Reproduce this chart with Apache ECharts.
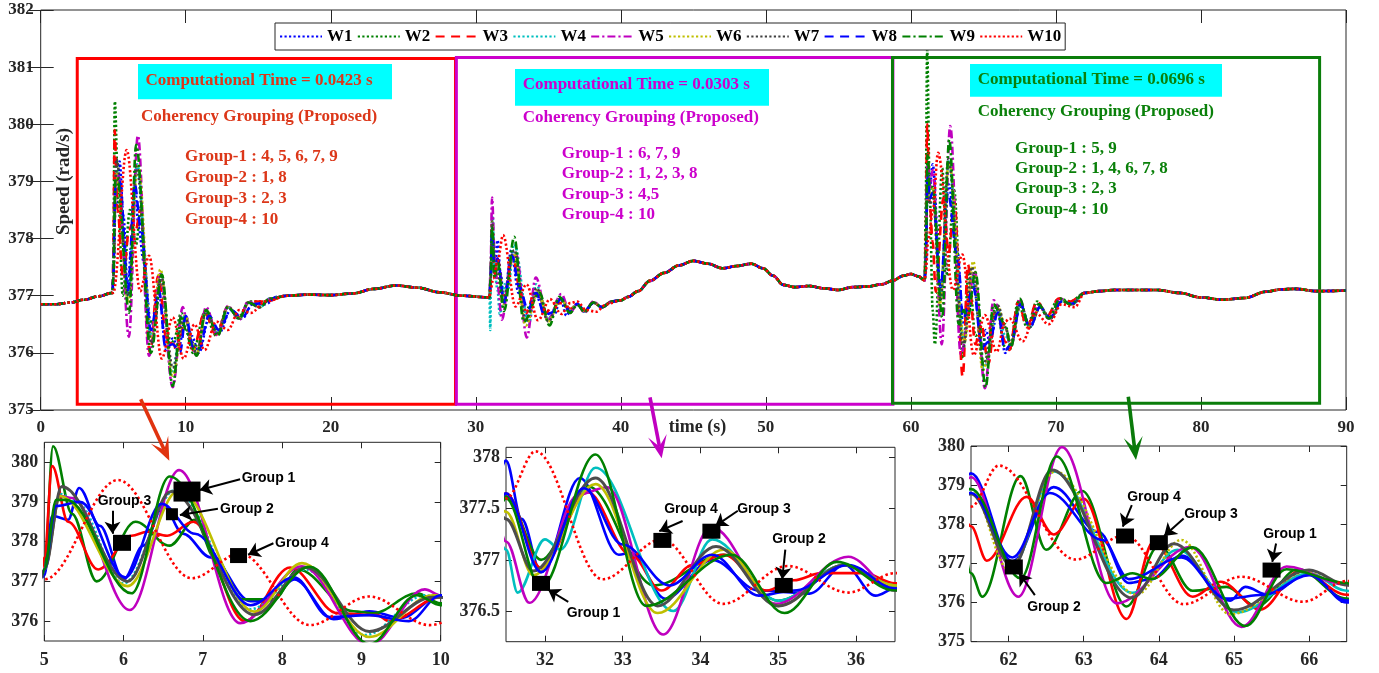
<!DOCTYPE html>
<html>
<head>
<meta charset="utf-8">
<script src="https://cdn.jsdelivr.net/npm/echarts@6/dist/echarts.min.js"></script>
<style>
html, body { margin: 0; padding: 0; background: #ffffff; }
#chart { width: 1379px; height: 673px; }
</style>
</head>
<body>
<div id="chart"></div>
<script>
// ---- Generator speeds (rad/s) against time (s) ----
const seriesNames = ['W1', 'W2', 'W3', 'W4', 'W5', 'W6', 'W7', 'W8', 'W9', 'W10'];

// stretches where all ten machines move together
const steadyA = [[0,376.85],[1,376.85],[2,376.88],[3,376.93],[4,376.99],[4.95,377.05]];
const steadyB = [[17,377.0],[18.5,377.02],[20,377.01],[21.5,377.04],[23,377.12],[24.5,377.18],[26,377.14],[27.5,377.06],[29,377.0],[30.95,376.97]];
const steadyC = [[40.5,376.98],[41.2,377.08],[42,377.26],[43,377.4],[44,377.53],[45,377.61],[46,377.56],[47,377.48],[48,377.52],[49,377.56],[49.8,377.48],[50.5,377.35],[51.2,377.19],[52,377.15],[53,377.17],[54,377.13],[55,377.1],[56,377.15],[57,377.16],[58,377.2],[58.7,377.26],[59.5,377.35],[60,377.38],[60.5,377.34],[60.95,377.27]];
const steadyD = [[72,377.05],[73,377.08],[74,377.1],[75.5,377.1],[77,377.1],[78.5,377.05],[80,376.97],[81.5,376.93],[83,376.96],[84.5,377.07],[85.5,377.11],[86.5,377.12],[88,377.08],[90,377.09]];

// first disturbance (t = 5 s)
const w1T1 = [[5.0,377.15],[5.1,378.65],[5.3,378.55],[5.44,379.35],[5.7,378.4],[6.0,377.05],[6.25,377.9],[6.5,378.9],[6.75,378.2],[7.1,377.6],[7.6,376.5],[7.85,376.52],[8.15,377.05],[8.65,376.05],[9.1,376.25],[9.5,376.08],[10.0,376.65],[10.4,376.3],[10.9,376.0],[11.6,376.6],[12.3,376.35],[13.1,376.75],[13.9,376.6],[14.6,376.85],[15.5,376.85],[16.3,376.98]];
const w2T1 = [[5.0,377.3],[5.11,380.4],[5.35,378.7],[5.66,377.0],[6.15,378.5],[6.58,377.9],[6.9,378.55],[7.15,377.6],[7.5,376.55],[7.9,376.55],[8.2,377.3],[8.9,376.25],[9.15,376.2],[9.7,376.7],[10.0,376.45],[10.5,376.0],[11.3,376.7],[12.1,376.3],[12.9,376.8],[13.7,376.65],[14.4,376.9],[15.5,376.9]];
const w3T1 = [[5.0,377.6],[5.1,379.9],[5.3,378.5],[5.68,377.3],[6.1,378.15],[6.3,378.25],[6.55,378.15],[6.88,378.5],[7.53,376.0],[8.1,377.35],[8.7,376.2],[9.2,376.15],[9.35,376.0],[10.0,376.6],[10.5,376.05],[11.3,376.7],[12.1,376.32],[12.9,376.8],[13.7,376.62],[14.4,376.9],[15.5,376.9]];
const w4T1 = [[5.0,377.3],[5.2,379.2],[5.4,379.0],[6.0,376.95],[6.65,379.3],[7.6,376.3],[8.3,377.3],[9.05,375.65],[9.8,376.65],[10.0,376.6],[10.4,376.2],[10.75,375.97],[11.4,376.72],[12.2,376.35],[12.9,376.8],[13.7,376.6],[14.3,376.88],[15.1,376.8],[15.8,376.95]];
const w5T1 = [[5.0,377.3],[5.2,379.15],[5.35,379.1],[6.08,376.28],[6.7,379.8],[7.47,375.95],[8.25,377.38],[9.1,375.4],[9.8,376.8],[10.0,376.65],[10.4,376.15],[10.75,375.95],[11.4,376.8],[12.2,376.3],[12.9,376.82],[13.7,376.58],[14.3,376.9],[15.1,376.8],[15.8,376.95]];
const w6T1 = [[5.0,377.3],[5.2,379.15],[6.05,376.88],[6.7,379.3],[7.65,376.24],[8.25,377.46],[9.1,375.6],[9.9,376.65],[10.0,376.65],[10.4,376.2],[10.75,375.98],[11.4,376.74],[12.2,376.35],[12.9,376.8],[13.7,376.6],[14.3,376.88],[15.1,376.8],[15.8,376.95]];
const w7T1 = [[5.0,377.3],[5.22,379.39],[6.05,377.0],[6.6,379.26],[7.65,376.16],[8.3,377.35],[9.1,375.74],[9.9,376.6],[10.0,376.6],[10.4,376.2],[10.75,375.98],[11.4,376.72],[12.2,376.35],[12.9,376.8],[13.7,376.6],[14.3,376.88],[15.1,376.8],[15.8,376.95]];
const w8T1 = [[5.0,377.3],[5.15,378.9],[5.45,379.0],[6.02,377.1],[6.48,378.95],[6.9,378.2],[7.6,376.4],[8.15,377.1],[8.6,376.1],[9.1,376.15],[9.6,376.0],[10.0,376.65],[10.5,376.1],[10.9,376.05],[11.6,376.65],[12.3,376.4],[13.1,376.75],[13.9,376.62],[14.6,376.85],[15.5,376.88],[16.3,376.98]];
const w9T1 = [[5.0,377.3],[5.15,379.05],[5.28,379.05],[6.1,376.7],[6.58,379.64],[7.6,376.0],[8.35,377.37],[9.1,375.42],[9.7,376.65],[10.0,376.4],[10.4,376.1],[10.75,375.95],[11.4,376.75],[12.2,376.3],[12.9,376.8],[13.7,376.6],[14.3,376.88],[15.1,376.8],[15.8,376.95]];
const w10T1 = [[5.0,377.05],[5.93,379.55],[6.86,377.08],[7.47,377.7],[8.35,375.9],[9.1,376.62],[9.86,375.9],[10.6,376.5],[11.3,376.05],[12.1,376.55],[12.9,376.4],[13.7,376.75],[14.5,376.7],[15.5,376.9]];

// second disturbance (t = 31 s)
const w1T2 = [[31.02,377.3],[31.12,378.2],[31.3,377.5],[31.5,377.97],[31.7,377.4],[31.95,376.88],[32.45,377.8],[32.95,377.05],[33.1,377.07],[33.55,376.62],[34.15,377.0],[34.75,376.7],[35.2,376.68],[35.4,376.67],[35.85,376.95],[36.25,376.65],[36.5,376.72],[37,376.85],[37.5,376.72],[38.1,376.88],[38.7,376.8],[39.4,376.9],[40,376.92]];
const w2T2 = [[31.02,377.3],[31.12,378.0],[31.3,377.3],[31.5,377.62],[31.95,377.0],[32.55,377.72],[33.4,376.75],[34.3,377.05],[35.0,376.6],[35.85,376.95],[36.5,376.75],[37,376.84],[37.5,376.73],[38.1,376.88],[38.7,376.8],[39.4,376.9],[40,376.92]];
const w3T2 = [[31.02,377.3],[31.12,378.1],[31.3,377.4],[31.5,377.65],[31.95,376.92],[32.55,377.66],[33.1,377.05],[33.5,376.7],[33.9,376.95],[34.3,377.05],[34.85,376.7],[35.2,376.8],[35.55,376.87],[36.1,376.87],[36.5,376.77],[37,376.85],[37.5,376.74],[38.1,376.88],[38.7,376.8],[39.4,376.9],[40,376.92]];
const w4T2 = [[30.98,376.97],[31.0,376.4],[31.05,377.5],[31.15,378.4],[31.3,377.4],[31.5,377.1],[31.65,376.68],[32.0,377.2],[32.2,377.1],[32.65,377.9],[33.65,376.5],[34.15,377.2],[35.0,376.6],[35.85,376.95],[36.5,376.75],[37,376.86],[37.5,376.72],[38.1,376.88],[38.7,376.8],[39.4,376.9],[40,376.92]];
const w5T2 = [[31.02,377.5],[31.12,378.72],[31.3,377.7],[31.5,377.18],[31.8,376.58],[32.44,377.64],[32.8,377.71],[33.52,376.27],[34.14,377.32],[34.97,376.57],[35.9,377.03],[36.5,376.7],[37,376.86],[37.5,376.7],[38.1,376.9],[38.7,376.8],[39.4,376.9],[40,376.92]];
const w6T2 = [[31.02,377.3],[31.12,378.3],[31.3,377.6],[31.5,377.47],[31.85,376.85],[32.65,377.74],[33.45,376.48],[34.3,377.1],[35.0,376.55],[35.85,376.95],[36.5,376.75],[37,376.85],[37.5,376.72],[38.1,376.88],[38.7,376.8],[39.4,376.9],[40,376.92]];
const w7T2 = [[31.02,377.3],[31.12,378.3],[31.3,377.6],[31.5,377.4],[31.85,376.89],[32.65,377.8],[33.45,376.55],[34.2,377.13],[35.0,376.55],[35.85,376.95],[36.5,376.72],[37,376.85],[37.5,376.72],[38.1,376.88],[38.7,376.8],[39.4,376.9],[40,376.92]];
const w8T2 = [[31.02,377.3],[31.12,378.1],[31.3,377.4],[31.5,377.65],[31.95,376.88],[32.5,377.7],[33.0,377.15],[33.6,376.75],[34.15,377.05],[34.75,376.65],[35.2,376.7],[35.9,376.95],[36.5,376.72],[37,376.86],[37.5,376.74],[38.1,376.87],[38.7,376.8],[39.4,376.9],[40,376.92]];
const w9T2 = [[31.02,377.3],[31.12,378.2],[31.3,377.3],[31.5,377.6],[31.95,376.73],[32.65,378.03],[33.3,376.55],[34.4,377.05],[35.08,376.48],[35.75,376.98],[36.5,376.7],[37,376.84],[37.5,376.72],[38.1,376.88],[38.7,376.8],[39.4,376.9],[40,376.92]];
const w10T2 = [[31.02,377.1],[31.2,377.3],[31.5,377.6],[31.88,378.06],[32.74,376.81],[33.5,377.2],[34.29,376.57],[35.12,376.94],[35.9,376.68],[36.5,376.87],[37,376.9],[37.6,376.75],[38.3,376.72],[39,376.85],[40,376.92]];

// third disturbance (t = 61 s)
const w1T3 = [[61.02,377.6],[61.15,379.3],[61.3,378.9],[61.5,379.3],[62.05,377.05],[62.6,378.95],[63.2,377.8],[63.6,376.5],[63.9,376.6],[64.3,377.2],[64.95,376.05],[65.15,376.4],[65.45,376.2],[66.0,376.75],[66.5,376.0],[66.9,376.15],[67.55,376.85],[68.2,376.45],[68.9,376.8],[69.6,376.6],[70.4,376.9],[71.1,376.85]];
const w2T3 = [[61.02,378.5],[61.12,381.3],[61.3,378.8],[61.5,376.75],[61.65,376.15],[62.16,379.23],[62.5,377.35],[62.98,378.85],[63.57,375.9],[64.0,377.45],[64.45,376.3],[64.9,376.4],[65.3,375.9],[65.85,376.85],[66.5,376.1],[66.8,376.05],[67.4,376.9],[68.0,376.45],[68.7,376.9],[69.4,376.65],[70.2,376.95],[71.0,376.9]];
const w3T3 = [[61.02,378.0],[61.12,380.0],[61.3,378.6],[61.5,377.95],[61.71,377.07],[62.24,378.7],[62.6,377.74],[63.0,378.65],[63.57,375.58],[63.93,377.55],[64.45,376.15],[64.82,376.53],[65.35,375.82],[65.88,376.82],[66.5,376.2],[66.8,376.05],[67.4,376.9],[68.0,376.45],[68.7,376.9],[69.4,376.65],[70.2,376.95],[71.0,376.9]];
const w4T3 = [[61.02,377.6],[61.15,379.1],[61.3,378.7],[61.5,378.9],[62.05,376.95],[62.6,379.35],[63.65,376.25],[64.25,377.35],[65.05,375.75],[66.0,376.75],[66.5,376.3],[66.9,376.15],[67.55,376.85],[68.2,376.45],[68.9,376.8],[69.6,376.6],[70.4,376.9],[71.1,376.85]];
const w5T3 = [[61.02,377.6],[61.15,379.3],[61.3,378.9],[61.5,379.2],[62.13,376.15],[62.71,379.97],[63.44,375.98],[64.42,377.42],[65.1,375.38],[65.7,376.92],[66.5,376.45],[66.9,376.1],[67.5,376.95],[68.1,376.5],[68.8,376.85],[69.5,376.6],[70.3,376.95],[71.0,376.85]];
const w6T3 = [[61.02,377.6],[61.15,379.1],[61.3,378.7],[61.5,378.9],[62.0,376.85],[62.62,379.35],[63.7,376.2],[64.3,377.6],[64.95,375.7],[66.0,376.8],[66.5,376.45],[66.9,376.15],[67.55,376.85],[68.2,376.45],[68.9,376.8],[69.6,376.6],[70.4,376.9],[71.1,376.85]];
const w7T3 = [[61.02,377.6],[61.15,379.0],[61.3,378.6],[61.5,378.78],[62.05,376.92],[62.58,379.39],[63.64,376.12],[64.2,377.5],[65.0,375.81],[66.0,376.83],[66.5,376.45],[66.9,376.15],[67.55,376.85],[68.2,376.45],[68.9,376.8],[69.6,376.6],[70.4,376.9],[71.1,376.85]];
const w8T3 = [[61.02,377.6],[61.15,379.1],[61.3,378.7],[61.5,378.8],[62.05,377.15],[62.55,378.8],[63.25,377.6],[63.6,376.6],[64.3,377.15],[64.9,376.1],[65.4,376.2],[66.0,376.7],[66.5,376.05],[66.9,376.15],[67.55,376.85],[68.2,376.45],[68.9,376.8],[69.6,376.62],[70.4,376.9],[71.1,376.86]];
const w9T3 = [[61.02,377.7],[61.15,379.5],[61.3,378.9],[61.5,378.9],[62.16,376.62],[62.64,379.73],[63.3,376.5],[63.65,376.75],[63.9,376.6],[64.45,377.41],[65.15,375.4],[65.7,376.85],[66.5,376.5],[66.9,376.1],[67.5,376.95],[68.1,376.5],[68.8,376.85],[69.5,376.6],[70.3,376.95],[71.0,376.85]];
const w10T3 = [[61.02,377.4],[61.2,378.0],[61.5,378.45],[61.87,379.5],[62.89,377.1],[63.55,377.72],[64.33,375.96],[65.1,376.66],[65.92,376.02],[66.5,376.55],[66.8,376.6],[67.7,376.2],[68.6,376.7],[69.5,376.5],[70.4,376.85],[71.3,376.8]];

// coherency group markers in the zoomed views: [time, speed]
const groupMarks1 = [[6.80,379.26],[6.61,378.69],[5.98,377.97],[7.45,377.65]];
const groupMarks2 = [[31.95,376.77],[33.51,377.19],[34.14,377.28],[35.07,376.75]];
const groupMarks3 = [[65.5,376.83],[62.07,376.91],[64.0,377.53],[63.55,377.70]];

// tick labels
const mainTimeTicks = [0, 10, 20, 30, 40, 50, 60, 70, 80, 90];
const zoom1Ticks = { x: [5, 6, 7, 8, 9, 10], y: [376, 377, 378, 379, 380] };
const zoom2Ticks = { x: [32, 33, 34, 35, 36], y: [376.5, 377, 377.5, 378] };
const zoom3Ticks = { x: [62, 63, 64, 65, 66], y: [375, 376, 377, 378, 379, 380] };

// ---- build full tracks ----
function track(a, b, c) { return [].concat(steadyA, a, steadyB, b, steadyC, c, steadyD); }
const tracks = [
  track(w1T1, w1T2, w1T3), track(w2T1, w2T2, w2T3), track(w3T1, w3T2, w3T3),
  track(w4T1, w4T2, w4T3), track(w5T1, w5T2, w5T3), track(w6T1, w6T2, w6T3),
  track(w7T1, w7T2, w7T3), track(w8T1, w8T2, w8T3), track(w9T1, w9T2, w9T3),
  track(w10T1, w10T2, w10T3)
];

const serif = "'Liberation Serif', 'Times New Roman', 'DejaVu Serif', serif";
const sans = "'Liberation Sans', Arial, 'DejaVu Sans', sans-serif";
const ink = '#262626';

const DOT = [2.2, 2.3], DASH = [9, 6.5], DASHDOT = [8, 3, 2.2, 3];
const lineLook = [
  { color: '#0000ff', dash: DOT },
  { color: '#008000', dash: DOT },
  { color: '#ff0000', dash: DASH },
  { color: '#00bfbf', dash: DOT },
  { color: '#bf00bf', dash: DASHDOT },
  { color: '#bfbf00', dash: DOT },
  { color: '#404040', dash: DOT },
  { color: '#0000ff', dash: DASH },
  { color: '#008000', dash: DASHDOT },
  { color: '#ff0000', dash: DOT }
];

// ---- grids: main plot + three zoomed windows ----
const grids = [
  { left: 40.7, top: 10, width: 1305.3, height: 400 },
  { left: 44.3, top: 442.3, width: 396.4, height: 198.7 },
  { left: 506, top: 447.3, width: 389, height: 194.4 },
  { left: 971, top: 446, width: 375.7, height: 195.7 }
].map(g => Object.assign({ show: true, borderColor: ink, borderWidth: 1, backgroundColor: '#fff', containLabel: false, outerBoundsMode: 'none' }, g));

function axis(gi, position, range, showLabel, fontSize, tickLen, margin) {
  const a = {
    type: 'value', gridIndex: gi, position: position,
    min: range.min, max: range.max,
    axisLine: { show: false },
    splitLine: { show: false },
    axisTick: { show: true, inside: true, length: tickLen, lineStyle: { color: ink, width: 1 } },
    axisLabel: { show: showLabel, color: ink, fontFamily: serif, fontWeight: 'bold', fontSize: fontSize, margin: margin, hideOverlap: false }
  };
  if (range.interval) a.interval = range.interval;
  if (range.ticks) {
    a.axisTick.customValues = range.ticks;
    a.axisLabel.customValues = range.ticks;
  }
  return a;
}

const xRanges = [
  { min: 0, max: 90, interval: 10 },
  { min: 5, max: 10, interval: 1 },
  { min: 31.5, max: 36.5, ticks: zoom2Ticks.x },
  { min: 61.5, max: 66.5, ticks: zoom3Ticks.x }
];
const yRanges = [
  { min: 375, max: 382, interval: 1 },
  { min: 375.5, max: 380.5, ticks: zoom1Ticks.y },
  { min: 376.2, max: 378.1, ticks: zoom2Ticks.y },
  { min: 375, max: 380, interval: 1 }
];

const xAxes = [], yAxes = [];
for (let g = 0; g < 4; g++) {
  const main = g === 0;
  const fs = main ? 17 : 18;
  const tl = main ? 13 : 6;
  xAxes.push(axis(g, 'bottom', xRanges[g], true, fs, tl, main ? 9 : 10));
  xAxes.push(axis(g, 'top', xRanges[g], false, fs, tl, 8));
  yAxes.push(axis(g, 'left', yRanges[g], true, fs, tl, main ? 7 : 6));
  yAxes.push(axis(g, 'right', yRanges[g], false, fs, tl, 8));
}

const series = [];

// main plot traces
tracks.forEach((d, i) => {
  series.push({
    name: seriesNames[i], type: 'line', xAxisIndex: 0, yAxisIndex: 0, data: d,
    symbol: 'none', showSymbol: false, smooth: 0.35, smoothMonotone: 'x',
    lineStyle: { color: lineLook[i].color, width: 2.6, type: lineLook[i].dash },
    itemStyle: { color: lineLook[i].color },
    emphasis: { disabled: true }, silent: true, z: 3
  });
});

// disturbance windows on the main plot
series.push({
  name: 'windows', type: 'line', xAxisIndex: 0, yAxisIndex: 0, data: [], silent: true, z: 2,
  markArea: {
    silent: true, label: { show: false },
    itemStyle: { color: 'rgba(0,0,0,0)', borderWidth: 3 },
    data: [
      [{ coord: [2.52, 381.15], itemStyle: { borderColor: '#ff0000' } }, { coord: [28.6, 375.1] }],
      [{ coord: [28.66, 381.17], itemStyle: { borderColor: '#cc00cc' } }, { coord: [58.76, 375.1] }],
      [{ coord: [58.73, 381.17], itemStyle: { borderColor: '#0a7d0a' } }, { coord: [88.18, 375.12] }]
    ]
  }
});

// zoomed windows
const zoomDash = [
  { 3: [2.2, 2.3] },         // W4 dotted in the first window
  {},
  { 5: [2.2, 2.3] }          // W6 dotted in the third window
];
for (let z = 0; z < 3; z++) {
  tracks.forEach((d, i) => {
    let type = 'solid';
    if (i === 9) type = [2.5, 2.8];
    if (zoomDash[z][i]) type = zoomDash[z][i];
    series.push({
      name: seriesNames[i], type: 'line', xAxisIndex: 2 * (z + 1), yAxisIndex: 2 * (z + 1), data: d,
      symbol: 'none', showSymbol: false, smooth: 0.35, smoothMonotone: 'x', clip: true,
      lineStyle: { color: i === 6 ? '#4d4d4d' : lineLook[i].color, width: i === 6 ? 3 : 2.6, type: type },
      itemStyle: { color: lineLook[i].color },
      emphasis: { disabled: true }, silent: true, z: 3
    });
  });
}

// group markers with pointer arrows
const markSets = [
  { marks: groupMarks1, sizes: [[27, 20], [12, 12], [18, 16], [17, 15]],
    arrows: [[[7.47, 379.57], [6.96, 379.30]], [[7.19, 378.83], [6.71, 378.67]], [[5.86, 378.78], [5.86, 378.20]], [[7.89, 377.96], [7.57, 377.67]]] },
  { marks: groupMarks2, sizes: [[18, 15], [18, 15], [18, 15], [18, 15]],
    arrows: [[[32.30, 376.59], [32.04, 376.71]], [[33.77, 377.38], [33.47, 377.28]], [[34.48, 377.48], [34.19, 377.33]], [[35.09, 377.10], [35.05, 376.81]]] },
  { marks: groupMarks3, sizes: [[18, 15], [18, 15], [18, 15], [18, 15]],
    arrows: [[[65.56, 377.51], [65.51, 377.04]], [[62.35, 376.19], [62.14, 376.75]], [[64.33, 378.15], [64.07, 377.70]], [[63.64, 378.49], [63.52, 377.94]]] }
];
markSets.forEach((s, z) => {
  series.push({
    name: 'groups' + (z + 1), type: 'scatter', xAxisIndex: 2 * (z + 1), yAxisIndex: 2 * (z + 1),
    symbol: 'rect', silent: true, z: 6,
    itemStyle: { color: '#000', opacity: 1 },
    data: s.marks.map((m, k) => ({ value: m, symbolSize: s.sizes[k] })),
    markLine: {
      silent: true, symbol: ['none', 'arrow'], symbolSize: 12, animation: false,
      label: { show: false },
      lineStyle: { color: '#000', width: 2, type: 'solid', opacity: 1 },
      itemStyle: { color: '#000' },
      emphasis: { disabled: true },
      data: s.arrows.map(a => [{ coord: a[0] }, { coord: a[1] }])
    }
  });
});

// ---- annotations ----
const graphics = [];
function txt(x, y, text, opt) {
  graphics.push({
    type: 'text', x: x, y: y, z: 20, silent: true,
    style: Object.assign({ text: text, fontFamily: serif, fontWeight: 'bold', fontSize: 17, fill: '#000', textAlign: 'left', textVerticalAlign: 'middle' }, opt || {})
  });
}
function panelNote(box, titleX, titleY, title, subX, subY, groupX, groupYs, lines, color) {
  graphics.push({ type: 'rect', z: 15, silent: true, shape: { x: box[0], y: box[1], width: box[2], height: box[3] }, style: { fill: '#00ffff' } });
  txt(titleX, titleY, title, { fill: color });
  txt(subX, subY, 'Coherency Grouping (Proposed)', { fill: color });
  lines.forEach((l, k) => txt(groupX, groupYs[k], l, { fill: color }));
}
panelNote([138, 64, 254, 35.3], 145.5, 80.5, 'Computational Time = 0.0423 s', 141, 116.7, 185, [156.7, 177.7, 198.5, 219.3],
  ['Group-1 : 4, 5, 6, 7, 9', 'Group-2 : 1, 8', 'Group-3 : 2, 3', 'Group-4 : 10'], '#dc3719');
panelNote([515, 69, 254, 36.7], 522.7, 84.8, 'Computational Time = 0.0303 s', 522.7, 117.7, 561.7, [153.3, 173.8, 194.3, 215],
  ['Group-1 : 6, 7, 9', 'Group-2 : 1, 2, 3, 8', 'Group-3 : 4,5', 'Group-4 : 10'], '#cc00cc');
panelNote([970, 64, 252, 32.7], 977.7, 79.2, 'Computational Time = 0.0696 s', 977.7, 111.7, 1015, [148.3, 168.6, 189, 209.3],
  ['Group-1 : 5, 9', 'Group-2 : 1, 4, 6, 7, 8', 'Group-3 : 2, 3', 'Group-4 : 10'], '#0a800a');

// axis titles
graphics.push({
  type: 'text', x: 64, y: 181.5, rotation: Math.PI / 2, z: 20, silent: true,
  style: { text: 'Speed (rad/s)', fontFamily: serif, fontWeight: 'bold', fontSize: 19, fill: ink, textAlign: 'center', textVerticalAlign: 'middle' }
});
txt(697.5, 427, 'time (s)', { fontSize: 18, fill: ink, textAlign: 'center' });

// group labels in the zoomed views
const gl = { fontFamily: sans, fontSize: 14, fill: '#000' };
txt(241.7, 478, 'Group 1', gl);
txt(220, 509.5, 'Group 2', gl);
txt(124.5, 501, 'Group 3', Object.assign({ textAlign: 'center' }, gl));
txt(275, 543.5, 'Group 4', gl);
txt(566.7, 613.5, 'Group 1', gl);
txt(691, 509.5, 'Group 4', Object.assign({ textAlign: 'center' }, gl));
txt(764, 509.5, 'Group 3', Object.assign({ textAlign: 'center' }, gl));
txt(799, 539.5, 'Group 2', Object.assign({ textAlign: 'center' }, gl));
txt(1054, 607, 'Group 2', Object.assign({ textAlign: 'center' }, gl));
txt(1154, 497, 'Group 4', Object.assign({ textAlign: 'center' }, gl));
txt(1211, 514.5, 'Group 3', Object.assign({ textAlign: 'center' }, gl));
txt(1290, 534.5, 'Group 1', Object.assign({ textAlign: 'center' }, gl));

// pointers from each window down to its zoomed view
function bigArrow(x1, y1, x2, y2, color) {
  const dx = x2 - x1, dy = y2 - y1, len = Math.hypot(dx, dy);
  const ux = dx / len, uy = dy / len, nx = -uy, ny = ux;
  const head = 23, half = 9.5, notch = 12;
  const bx = x2 - ux * head, by = y2 - uy * head;
  const kx = x2 - ux * notch, ky = y2 - uy * notch;
  graphics.push({ type: 'line', z: 18, silent: true, shape: { x1: x1, y1: y1, x2: kx, y2: ky }, style: { stroke: color, lineWidth: 3.6 } });
  graphics.push({ type: 'polygon', z: 18, silent: true, shape: { points: [[x2, y2], [bx + nx * half, by + ny * half], [kx, ky], [bx - nx * half, by - ny * half]] }, style: { fill: color } });
}
bigArrow(140.7, 399.3, 169.3, 460.7, '#e0330f');
bigArrow(650, 397.3, 661.7, 458.3, '#c000c0');
bigArrow(1128.3, 396.7, 1136, 460, '#0a7a0a');

const chart = echarts.init(document.getElementById('chart'), null, { renderer: 'canvas' });
chart.setOption({
  animation: false,
  backgroundColor: '#ffffff',
  grid: grids,
  xAxis: xAxes,
  yAxis: yAxes,
  legend: {
    data: seriesNames, left: 275, top: 23, orient: 'horizontal',
    itemWidth: 42, itemHeight: 14, itemGap: 4.3, padding: [5, 4, 5, 4],
    backgroundColor: '#ffffff', borderColor: ink, borderWidth: 1, borderRadius: 0,
    selectedMode: false,
    itemStyle: { opacity: 0 },
    textStyle: { fontFamily: serif, fontWeight: 'bold', fontSize: 17, color: '#000' }
  },
  series: series,
  graphic: graphics
});
</script>
</body>
</html>
